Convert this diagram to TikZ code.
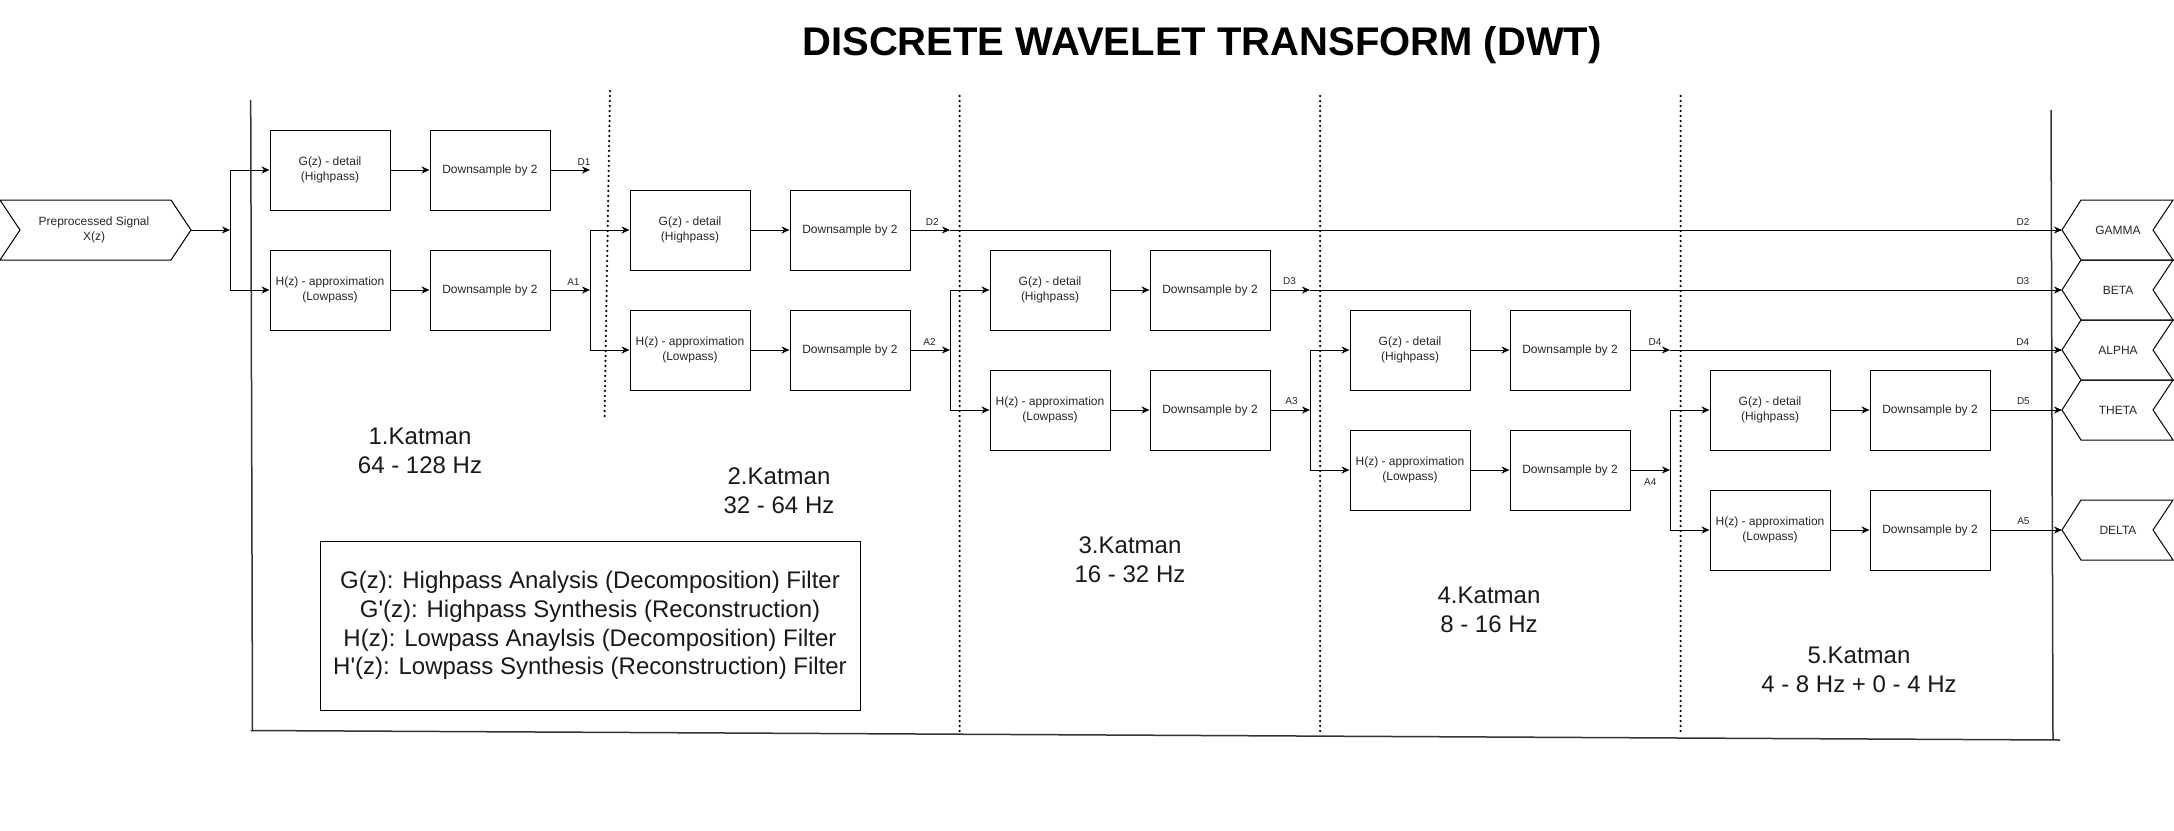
\documentclass[tikz,border=0pt]{standalone}
\usepackage{fontspec}
\setmainfont{Liberation Sans}
\newfontfamily\plainsans{Liberation Sans}
\usetikzlibrary{arrows.meta}
\begin{document}
\begin{tikzpicture}[x=1pt,y=-1pt,
  box/.style={draw,line width=1pt,minimum width=120pt,minimum height=80pt,inner sep=0pt,align=center,text=black!85,font=\fontsize{12}{15.5}\selectfont},
  arr/.style={line width=1pt,-{Stealth[length=8pt,width=7pt]}},
  lbl/.style={font=\fontsize{10}{12}\selectfont,inner sep=1pt,text=black!85},
  band/.style={align=center,text=black!90,font=\fontsize{24}{28.8}\selectfont},
  sepline/.style={line width=2.5pt,dash pattern=on 0pt off 5pt,line cap=round},
  framel/.style={line width=1.5pt,black!80},
  chev/.style={line width=1pt,line join=miter},
  ctext/.style={align=center,text=black!85,font=\fontsize{12}{15.5}\selectfont}]
\useasboundingbox (0,0) rectangle (2174,830);

% title
\node[anchor=base,font=\fontsize{40}{48}\selectfont\bfseries] (title) at (1202,55) {DISCRETE WAVELET TRANSFORM (DWT)};

% frame
\draw[framel] (250.7,100) -- (252.5,730.5);
\draw[framel] (250.7,730.5) -- (2060,740);
\draw[framel] (2051,110) -- (2053,740);

% dotted separators
\draw[sepline] (610,91) -- (604.5,420);
\draw[sepline] (959.5,96) -- (959.5,731);
\draw[sepline] (1320,96) -- (1320,731);
\draw[sepline] (1680.5,96) -- (1680.5,731);

% input signal
\draw[chev] (0,200) -- (171,200) -- (191,230) -- (171,260) -- (0,260) -- (20,230) -- cycle;
\node[ctext] (sig) at (94,230) {Preprocessed Signal\\X(z)};
\coordinate (sigtip) at (191,230);

% stages
\foreach \k in {1,...,5}{
  \pgfmathsetmacro{\xg}{330+360*(\k-1)}
  \pgfmathsetmacro{\xd}{490+360*(\k-1)}
  \pgfmathsetmacro{\yg}{170+60*(\k-1)}
  \pgfmathsetmacro{\yh}{290+60*(\k-1)}
  \node[box] (g\k) at (\xg,\yg) {G(z) - detail\\(Highpass)};
  \node[box] (dg\k) at (\xd,\yg) {Downsample by 2};
  \node[box] (h\k) at (\xg,\yh) {H(z) - approximation\\(Lowpass)};
  \node[box] (dh\k) at (\xd,\yh) {Downsample by 2};
  \coordinate (s\k) at (\xg-100,\yg+60);
  \draw[arr] (g\k) -- (dg\k);
  \draw[arr] (h\k) -- (dh\k);
  \draw[arr] (s\k) |- (g\k.west);
  \draw[arr] (s\k) |- (h\k.west);
}

% output chevrons
\foreach \n/\t/\y in {gamma/GAMMA/230, beta/BETA/290, alpha/ALPHA/350, theta/THETA/410, delta/DELTA/530}{
  \draw[chev] (2062,\y) -- (2081,\y-30) -- (2173,\y-30) -- (2153,\y) -- (2173,\y+30) -- (2081,\y+30) -- cycle;
  \node[ctext] (\n) at (2118,\y) {\t};
  \coordinate (tip\n) at (2062,\y);
}

% connectors
\draw[arr] (sigtip) -- (s1);
\coordinate (d1e) at (590,170);
\draw[arr] (dg1) -- node[lbl,above,pos=0.85,yshift=3.5pt]{D1} (d1e);
\draw[arr] (dh1) -- node[lbl,above,pos=0.58,yshift=3.5pt]{A1} (s2);
\draw[arr] (dh2) -- node[lbl,above,pos=0.48,yshift=3.5pt]{A2} (s3);
\draw[arr] (dh3) -- node[lbl,above,pos=0.53,yshift=3.5pt]{A3} (s4);
\draw[arr] (dh4) -- node[lbl,below,pos=0.5,yshift=-7pt]{A4} (s5);

\coordinate (j2) at (950,230);
\coordinate (j3) at (1310,290);
\coordinate (j4) at (1670,350);
\draw[arr] (dg2) -- node[lbl,above,pos=0.55,yshift=3.5pt]{D2} (j2);
\draw[arr] (j2) -- node[lbl,above,pos=0.965,yshift=3.5pt]{D2} (tipgamma);
\draw[arr] (dg3) -- node[lbl,above,pos=0.48,yshift=3.5pt]{D3} (j3);
\draw[arr] (j3) -- node[lbl,above,pos=0.948,yshift=3.5pt]{D3} (tipbeta);
\draw[arr] (dg4) -- node[lbl,above,pos=0.62,yshift=3.5pt]{D4} (j4);
\draw[arr] (j4) -- node[lbl,above,pos=0.90,yshift=3.5pt]{D4} (tipalpha);
\draw[arr] (dg5) -- node[lbl,above,pos=0.46,yshift=3.5pt]{D5} (tiptheta);
\draw[arr] (dh5) -- node[lbl,above,pos=0.46,yshift=3.5pt]{A5} (tipdelta);

% band labels
\node[band] (k1) at (420,450.5) {1.Katman\\64 - 128 Hz};
\node[band] (k2) at (779,490.8) {2.Katman\\32 - 64 Hz};
\node[band] (k3) at (1130,560) {3.Katman\\16 - 32 Hz};
\node[band] (k4) at (1489,610) {4.Katman\\8 - 16 Hz};
\node[band] (k5) at (1859,669.7) {5.Katman\\4 - 8 Hz + 0 - 4 Hz};

% legend
\node[draw,line width=1pt,minimum width=540pt,minimum height=169pt,align=center,text=black!90,font=\plainsans\fontsize{24}{28.8}\selectfont] (legend) at (590,625.5)
 {G(z): Highpass Analysis (Decomposition) Filter\\G'(z): Highpass Synthesis (Reconstruction)\\H(z): Lowpass Anaylsis (Decomposition) Filter\\H'(z): Lowpass Synthesis (Reconstruction) Filter};
\end{tikzpicture}
\end{document}
